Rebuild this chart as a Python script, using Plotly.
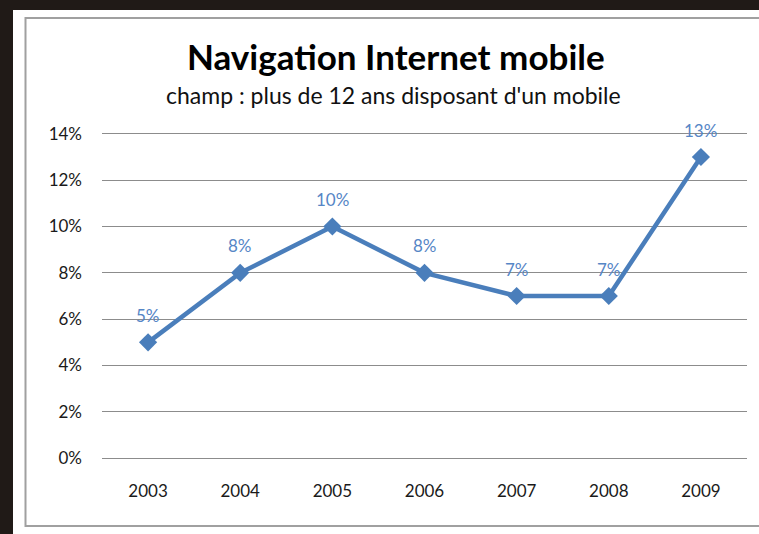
import plotly.graph_objects as go

years = ["2003", "2004", "2005", "2006", "2007", "2008", "2009"]
values = [0.05, 0.08, 0.10, 0.08, 0.07, 0.07, 0.13]
labels = ["5%", "8%", "10%", "8%", "7%", "7%", "13%"]
y_ticks = [0, 0.02, 0.04, 0.06, 0.08, 0.10, 0.12, 0.14]
y_ticktext = ["0%", "2%", "4%", "6%", "8%", "10%", "12%", "14%"]

W, H = 759, 534
L, R, T, B = 102, 12, 132, 74
PW, PH = W - L - R, H - T - B

def px(x):
    return (x - L) / PW

def py(y):
    return (H - B - y) / PH

FONT = "Lato, 'Open Sans', sans-serif"
BLUE = "#4a7ebb"

fig = go.Figure()
fig.add_trace(go.Scatter(
    x=years, y=values, mode="lines+markers",
    line=dict(color=BLUE, width=4.5),
    marker=dict(symbol="diamond", size=14, color=BLUE),
    hoverinfo="skip", showlegend=False,
))

for i, (v, lab) in enumerate(zip(values, labels)):
    fig.add_annotation(x=i, y=v, text=lab, showarrow=False, yshift=27,
                       font=dict(family=FONT, size=17, color="#5686c6"))

fig.add_annotation(xref="paper", yref="paper", x=px(396), y=py(56),
                   text="<b>Navigation Internet mobile</b>", showarrow=False,
                   xanchor="center", yanchor="middle",
                   font=dict(family=FONT, size=35, color="#000000"))
fig.add_annotation(xref="paper", yref="paper", x=px(393), y=py(95),
                   text="champ : plus de 12 ans disposant d'un mobile", showarrow=False,
                   xanchor="center", yanchor="middle",
                   font=dict(family=FONT, size=23, color="#111111"))

fig.add_shape(type="rect", xref="paper", yref="paper", layer="below",
              x0=px(13), x1=px(W + 5), y0=py(H + 5), y1=py(10),
              fillcolor="white", line=dict(width=0))
fig.add_shape(type="rect", xref="paper", yref="paper", layer="below",
              x0=px(25.5), x1=px(W + 20), y0=py(526), y1=py(18),
              fillcolor="rgba(0,0,0,0)", line=dict(color="#a0a0a0", width=2))

fig.update_layout(
    width=W, height=H,
    margin=dict(l=L, r=R, t=T, b=B),
    paper_bgcolor="#201a17", plot_bgcolor="white",
    font=dict(family=FONT, size=17, color="#1a1a1a"),
    xaxis=dict(type="category", range=[-0.5, 6.5], showgrid=False, zeroline=False,
               showline=False, ticks="", ticklabelstandoff=19,
               tickfont=dict(family=FONT, size=17, color="#1a1a1a")),
    yaxis=dict(range=[-0.0008, 0.1408], tickvals=y_ticks, ticktext=y_ticktext,
               showgrid=True, gridcolor="#8c8c8c", gridwidth=1.2, zeroline=False,
               showline=False, ticks="", ticklabelstandoff=19,
               tickfont=dict(family=FONT, size=17, color="#1a1a1a")),
)

fig.write_html("out.html", config={"displayModeBar": False},
               post_script="document.body.style.margin='0';")
